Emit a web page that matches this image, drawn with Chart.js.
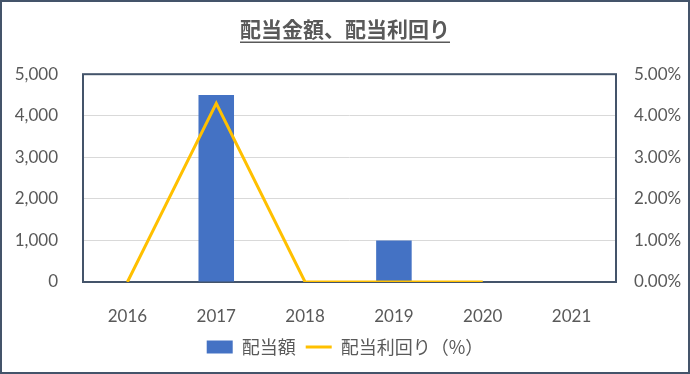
<!DOCTYPE html>
<html>
<head>
<meta charset="utf-8">
<script src="https://cdn.jsdelivr.net/npm/chart.js@4"></script>
<style>
  html, body { margin: 0; padding: 0; background: #fff; }
  #wrap { width: 690px; height: 374px; }
</style>
</head>
<body>
<div id="wrap"><canvas id="chart"></canvas></div>
<script>
// data
const years = ["2016", "2017", "2018", "2019", "2020", "2021"];
const dividendAmount = [0, 4500, 0, 1000, 0, 0];
const dividendYield = [0, 4.3, 0, 0, 0, null];
const leftTicks = [0, 1000, 2000, 3000, 4000, 5000];
const rightTicks = [0, 1, 2, 3, 4, 5];

const navy = "#44546A";
const tickColor = "#595959";
const latin = "Lato, 'Noto Sans CJK JP', sans-serif";
const cjk = "'Noto Sans CJK JP', sans-serif";
const titleFont = { family: cjk, size: 21, weight: "bold" };

// borders around the whole chart and around the plot area, title underline
const borders = {
    id: "borders",
    beforeDatasetsDraw(chart) {
        const a = chart.chartArea;
        const ctx = chart.ctx;
        ctx.save();
        ctx.strokeStyle = navy;
        ctx.lineWidth = 2;
        ctx.strokeRect(a.left, a.top, a.right - a.left, a.bottom - a.top);
        ctx.restore();
    },
    afterDraw(chart) {
        const ctx = chart.ctx;
        ctx.save();
        ctx.strokeStyle = navy;
        ctx.lineWidth = 2;
        ctx.strokeRect(1, 1, chart.width - 2, chart.height - 2);

        // underline the title
        const tb = chart.titleBlock;
        ctx.font = "bold " + titleFont.size + "px " + titleFont.family;
        const w = ctx.measureText(chart.options.plugins.title.text).width;
        const cx = (tb.left + tb.right) / 2;
        const y = tb.top + tb.options.padding.top + titleFont.size * 1.2 + 1;
        ctx.strokeStyle = tickColor;
        ctx.lineWidth = 1.5;
        ctx.beginPath();
        ctx.moveTo(cx - w / 2, y);
        ctx.lineTo(cx + w / 2, y);
        ctx.stroke();
        ctx.restore();
    }
};

new Chart(document.getElementById("chart"), {
    data: {
        labels: years,
        datasets: [
            {
                type: "line",
                label: "配当利回り（%）",
                data: dividendYield,
                yAxisID: "y2",
                borderColor: "#FFC000",
                backgroundColor: "#FFC000",
                borderWidth: 3,
                pointRadius: 0,
                tension: 0,
                order: 1
            },
            {
                type: "bar",
                label: "配当額",
                data: dividendAmount,
                yAxisID: "y",
                backgroundColor: "#4472C4",
                barPercentage: 0.4,
                categoryPercentage: 1,
                order: 2
            }
        ]
    },
    options: {
        responsive: true,
        maintainAspectRatio: false,
        animation: false,
        layout: { padding: { left: 0, right: 0, top: 0, bottom: 8 } },
        plugins: {
            title: {
                display: true,
                text: "配当金額、配当利回り",
                color: tickColor,
                font: titleFont,
                padding: { top: 16, bottom: 33 }
            },
            legend: {
                position: "bottom",
                reverse: true,
                labels: {
                    color: tickColor,
                    font: { family: cjk, size: 18 },
                    usePointStyle: true,
                    pointStyleWidth: 26,
                    boxHeight: 13,
                    padding: 10,
                    generateLabels(chart) {
                        return chart.data.datasets.map((ds, i) => ({
                            text: ds.label,
                            fillStyle: ds.type === "bar" ? ds.backgroundColor : "transparent",
                            strokeStyle: ds.type === "bar" ? ds.backgroundColor : ds.borderColor,
                            lineWidth: ds.type === "bar" ? 0 : 3,
                            pointStyle: ds.type === "bar" ? "rect" : "line",
                            fontColor: tickColor,
                            datasetIndex: i,
                            hidden: false
                        }));
                    }
                }
            },
            tooltip: { enabled: false }
        },
        scales: {
            x: {
                grid: { display: false },
                border: { display: false },
                ticks: { color: tickColor, font: { family: latin, size: 17 }, padding: 16 },
                afterFit(axis) { axis.height = 46; }
            },
            y: {
                position: "left",
                min: 0,
                max: 5000,
                afterBuildTicks(axis) { axis.ticks = leftTicks.map(v => ({ value: v })); },
                grid: { color: "#D9D9D9", lineWidth: 1, drawTicks: false },
                border: { display: false },
                ticks: {
                    color: tickColor,
                    font: { family: latin, size: 17 },
                    padding: 25,
                    callback: v => v.toLocaleString("en-US")
                },
                afterFit(axis) { axis.width = 83; }
            },
            y2: {
                position: "right",
                min: 0,
                max: 5,
                afterBuildTicks(axis) { axis.ticks = rightTicks.map(v => ({ value: v })); },
                grid: { display: false, drawTicks: false },
                border: { display: false },
                ticks: {
                    color: tickColor,
                    font: { family: latin, size: 17 },
                    padding: 18,
                    callback: v => v.toFixed(2) + "%"
                },
                afterFit(axis) { axis.width = 74; }
            }
        }
    },
    plugins: [borders]
});
</script>
</body>
</html>
